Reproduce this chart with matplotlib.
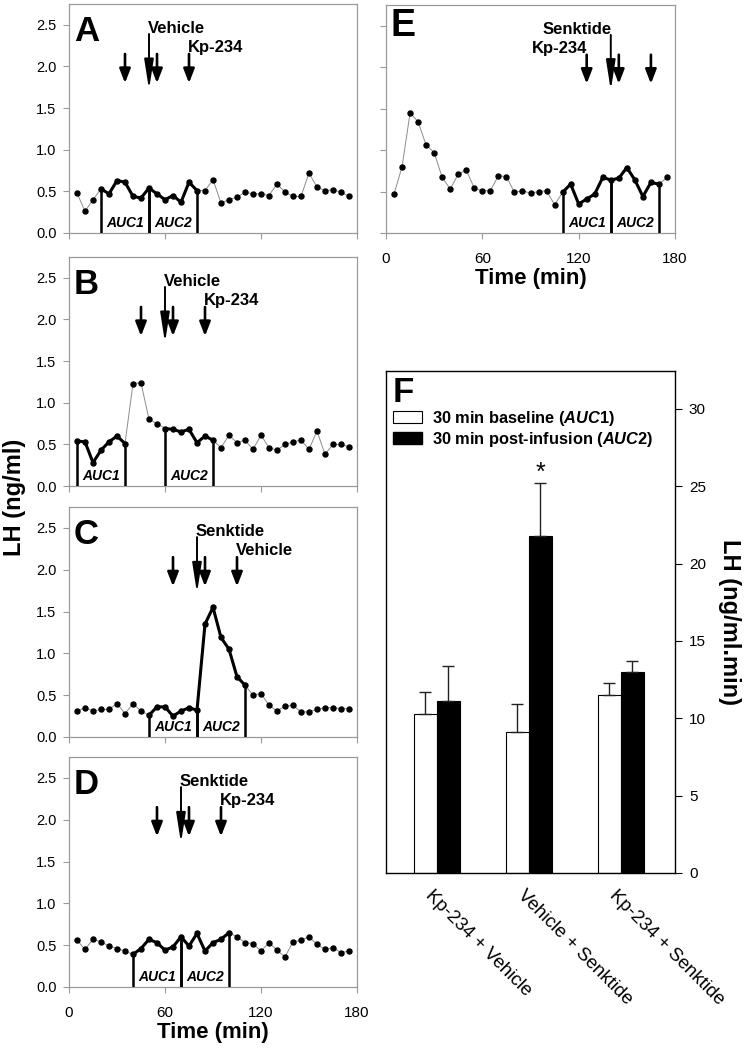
import matplotlib
matplotlib.use("Agg")
import matplotlib.pyplot as plt
from matplotlib.patches import Patch
from matplotlib.transforms import ScaledTranslation

plt.rcParams['font.family'] = ['Liberation Sans', 'DejaVu Sans']
plt.rcParams['mathtext.fontset'] = 'custom'
plt.rcParams['mathtext.it'] = 'Liberation Sans:italic:bold'
plt.rcParams['mathtext.rm'] = 'Liberation Sans:bold'

# sampling times (min), one sample every 5 min
time_min = [5, 10, 15, 20, 25, 30, 35, 40, 45, 50, 55, 60, 65, 70, 75, 80, 85, 90,
            95, 100, 105, 110, 115, 120, 125, 130, 135, 140, 145, 150, 155, 160,
            165, 170, 175]

# LH (ng/ml) for each example animal
lh_a = [0.48, 0.26, 0.40, 0.53, 0.47, 0.63, 0.61, 0.44, 0.42, 0.54, 0.47, 0.40,
        0.45, 0.37, 0.61, 0.51, 0.51, 0.64, 0.36, 0.40, 0.43, 0.49, 0.47, 0.47,
        0.45, 0.59, 0.49, 0.44, 0.44, 0.72, 0.55, 0.51, 0.52, 0.49, 0.44]
lh_b = [0.54, 0.53, 0.28, 0.43, 0.53, 0.60, 0.51, 1.23, 1.24, 0.80, 0.75, 0.69,
        0.68, 0.65, 0.68, 0.52, 0.60, 0.55, 0.46, 0.61, 0.52, 0.55, 0.44, 0.61,
        0.46, 0.43, 0.50, 0.53, 0.55, 0.44, 0.66, 0.38, 0.50, 0.50, 0.47]
lh_c = [0.31, 0.35, 0.31, 0.33, 0.33, 0.40, 0.28, 0.40, 0.31, 0.26, 0.36, 0.36,
        0.25, 0.31, 0.35, 0.32, 1.35, 1.55, 1.19, 1.05, 0.72, 0.62, 0.50, 0.52,
        0.38, 0.31, 0.37, 0.38, 0.30, 0.30, 0.33, 0.35, 0.35, 0.34, 0.34]
lh_d = [0.56, 0.45, 0.57, 0.54, 0.49, 0.46, 0.43, 0.39, 0.46, 0.57, 0.53, 0.44,
        0.48, 0.60, 0.49, 0.64, 0.43, 0.53, 0.57, 0.65, 0.60, 0.53, 0.52, 0.43,
        0.53, 0.44, 0.36, 0.54, 0.56, 0.60, 0.51, 0.45, 0.47, 0.41, 0.43]
lh_e = [0.47, 0.80, 1.45, 1.34, 1.06, 0.97, 0.67, 0.53, 0.71, 0.76, 0.54, 0.51,
        0.51, 0.69, 0.68, 0.49, 0.51, 0.48, 0.50, 0.51, 0.34, 0.49, 0.59, 0.35,
        0.41, 0.47, 0.67, 0.64, 0.66, 0.79, 0.64, 0.44, 0.61, 0.59, 0.67]

# AUC windows (start, end) in min
auc1_a, auc2_a = (20, 50), (50, 80)
auc1_b, auc2_b = (5, 35), (60, 90)
auc1_c, auc2_c = (50, 80), (80, 110)
auc1_d, auc2_d = (40, 70), (70, 100)
auc1_e, auc2_e = (110, 140), (140, 170)

# injection times (min): three small arrows + one large arrow
small_a, big_a = [35, 55, 75], 50
small_b, big_b = [45, 65, 85], 60
small_c, big_c = [65, 85, 105], 80
small_d, big_d = [55, 75, 95], 70
small_e, big_e = [125, 145, 165], 140

time_ticks = [0, 60, 120, 180]
lh_ticks = [0.0, 0.5, 1.0, 1.5, 2.0, 2.5]

# panel F: AUC (ng/ml.min)
groups = ['Kp-234 + Vehicle', 'Vehicle + Senktide', 'Kp-234 + Senktide']
auc_baseline = [10.3, 9.1, 11.5]
auc_baseline_err = [1.4, 1.8, 0.8]
auc_post = [11.1, 21.8, 13.0]
auc_post_err = [2.3, 3.4, 0.7]
auc_ticks = [0, 5, 10, 15, 20, 25, 30]

W, H = 745, 1052
fig = plt.figure(figsize=(W / 100, H / 100), dpi=100)


def px_axes(left, top, right, bottom):
    return fig.add_axes([left / W, 1 - bottom / H, (right - left) / W, (bottom - top) / H])


FRAME = '#9a9a9a'


def trace_panel(ax, lh, auc1, auc2, small, big, big_label, small_label,
                letter, right_labels=False, letter_size=25, letter_y=0.95):
    ax.plot(time_min, lh, color='#8c8c8c', lw=0.7, zorder=2)
    ax.plot(time_min, lh, 'o', color='black', ms=3.6, zorder=4)
    for (t0, t1), name in [(auc1, 'AUC1'), (auc2, 'AUC2')]:
        seg_t = [t for t in time_min if t0 <= t <= t1]
        seg_v = [v for t, v in zip(time_min, lh) if t0 <= t <= t1]
        ax.plot(seg_t, seg_v, color='black', lw=2.2, zorder=3)
        ax.vlines([t0, t1], 0, [seg_v[0], seg_v[-1]], color='black', lw=1.8, zorder=3)
        ax.text((t0 + t1) / 2, 0.12, name, ha='center', va='center', fontsize=10,
                fontweight='bold', fontstyle='italic')
    for t in small:
        ax.annotate('', xy=(t, 1.80), xytext=(t, 2.15),
                    arrowprops=dict(arrowstyle='-|>,head_length=0.85,head_width=0.33',
                                    lw=1.9, color='black', shrinkA=0, shrinkB=0))
    ax.annotate('', xy=(big, 1.72), xytext=(big, 2.39),
                arrowprops=dict(arrowstyle='-|>,head_length=1.8,head_width=0.28',
                                lw=1.4, color='black', shrinkA=0, shrinkB=0))
    if right_labels:
        ax.text(big + 0.5, 2.46, big_label, ha='right', va='center', fontsize=12, fontweight='bold')
        ax.text(small[0] + 0.5, 2.23, small_label, ha='right', va='center', fontsize=12, fontweight='bold')
    else:
        ax.text(big - 0.8, 2.46, big_label, ha='left', va='center', fontsize=12, fontweight='bold')
        ax.text(small[-1] - 0.8, 2.23, small_label, ha='left', va='center', fontsize=12, fontweight='bold')
    ax.text(0.017, letter_y, letter, transform=ax.transAxes, ha='left', va='top',
            fontsize=letter_size, fontweight='bold')

    ax.set_xlim(0, 180)
    ax.set_ylim(0, 2.75)
    ax.set_xticks(time_ticks)
    ax.set_yticks(lh_ticks)
    ax.set_yticklabels([f'{v:.1f}' for v in lh_ticks])
    for s in ax.spines.values():
        s.set_color(FRAME)
        s.set_linewidth(0.9)
    ax.tick_params(direction='out', length=4, width=0.8, color=FRAME, labelsize=10.5, pad=5)
    ax.tick_params(axis='x', labelsize=11, pad=10)


ax_a = px_axes(69, 4, 357, 233)
trace_panel(ax_a, lh_a, auc1_a, auc2_a, small_a, big_a, 'Vehicle', 'Kp-234', 'A')
ax_a.tick_params(axis='x', labelbottom=False)

ax_b = px_axes(69, 257, 357, 486)
trace_panel(ax_b, lh_b, auc1_b, auc2_b, small_b, big_b, 'Vehicle', 'Kp-234', 'B')
ax_b.tick_params(axis='x', labelbottom=False)

ax_c = px_axes(69, 507, 357, 737)
trace_panel(ax_c, lh_c, auc1_c, auc2_c, small_c, big_c, 'Senktide', 'Vehicle', 'C')
ax_c.tick_params(axis='x', labelbottom=False)

ax_d = px_axes(69, 757, 357, 987)
trace_panel(ax_d, lh_d, auc1_d, auc2_d, small_d, big_d, 'Senktide', 'Kp-234', 'D')
ax_d.set_xlabel('Time (min)', fontsize=16, fontweight='bold', labelpad=1)

ax_e = px_axes(386, 5, 675, 233)
trace_panel(ax_e, lh_e, auc1_e, auc2_e, small_e, big_e, 'Senktide', 'Kp-234', 'E',
            right_labels=True, letter_size=27, letter_y=0.985)
ax_e.tick_params(axis='y', labelleft=False)
ax_e.set_xlabel('Time (min)', fontsize=16, fontweight='bold', labelpad=1)

fig.text(15 / W, 1 - 497 / H, 'LH (ng/ml)', rotation=90, ha='center', va='center',
         fontsize=17, fontweight='bold')

# panel F
ax_f = px_axes(386, 371, 675, 873)
xpos = list(range(len(groups)))
bw = 0.25
ekw = dict(ecolor='#222222', elinewidth=1.0, capsize=4.5, capthick=1.0)
ax_f.bar([x - bw / 2 for x in xpos], auc_baseline, bw, color='white', edgecolor='black',
         linewidth=0.8, yerr=[[0] * 3, auc_baseline_err], error_kw=ekw, zorder=2)
ax_f.bar([x + bw / 2 for x in xpos], auc_post, bw, color='black', edgecolor='black',
         linewidth=0.8, yerr=[[0] * 3, auc_post_err], error_kw=ekw, zorder=2)
ax_f.text(1 + bw / 2, auc_post[1] + auc_post_err[1] - 0.1, '*', ha='center', va='bottom',
          fontsize=18)
ax_f.set_xlim(-0.554, 2.587)
ax_f.set_ylim(0, 32.45)
ax_f.yaxis.tick_right()
ax_f.set_yticks(auc_ticks)
ax_f.tick_params(axis='y', direction='out', length=5, width=0.8, labelsize=11, pad=5)
ax_f.set_xticks(xpos)
ax_f.set_xticklabels(groups, rotation=-45, ha='left', va='top', rotation_mode='anchor',
                     fontsize=13.5)
ax_f.tick_params(axis='x', length=0, pad=10)
shift = ScaledTranslation(-3 / 100, 0, fig.dpi_scale_trans)
for lab in ax_f.get_xticklabels():
    lab.set_transform(lab.get_transform() + shift)
for s in ax_f.spines.values():
    s.set_color('black')
    s.set_linewidth(1.0)
ax_f.yaxis.set_label_position('right')
ax_f.set_ylabel('LH (ng/ml.min)', rotation=270, fontsize=17, fontweight='bold', va='center')
ax_f.yaxis.set_label_coords(1.19, 0.5)
ax_f.text(0.024, 0.99, 'F', transform=ax_f.transAxes, ha='left', va='top',
          fontsize=25, fontweight='bold')

handles = [Patch(facecolor='white', edgecolor='black', linewidth=0.8),
           Patch(facecolor='black', edgecolor='black')]
labels = [r'30 min baseline ($\mathit{AUC1}$)', r'30 min post-infusion ($\mathit{AUC2}$)']
ax_f.legend(handles, labels, loc='upper left', bbox_to_anchor=(0.024, 0.925),
            frameon=False, prop={'weight': 'bold', 'size': 11.8}, handlelength=1.8,
            handleheight=0.75, handletextpad=0.6, borderpad=0, borderaxespad=0,
            labelspacing=0.15)

fig.savefig('out.png', dpi=100)
